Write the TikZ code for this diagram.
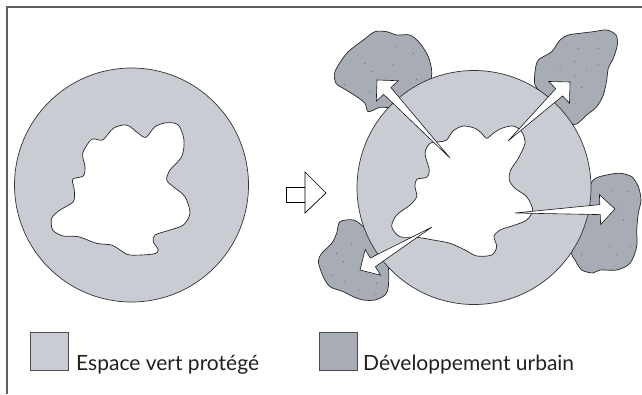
\documentclass[tikz,border=0pt]{standalone}
\usepackage{fontspec}
\setmainfont{Lato}
\usepackage{xcolor}
\usepackage{tikz}
\usetikzlibrary{calc}

\definecolor{vert}{RGB}{201,204,211}
\definecolor{urbain}{RGB}{168,172,180}
\definecolor{cadre}{RGB}{95,95,95}
\definecolor{texte}{RGB}{35,31,32}

\newcommand{\flecheurb}[2]{%
  \coordinate (b#2) at ($(#2)!15pt!(#1)$);
  \filldraw[fleche] (#1) -- ($(b#2)!5pt!90:(#2)$) -- ($(b#2)!15pt!90:(#2)$) -- (#2)
    -- ($(b#2)!15pt!-90:(#2)$) -- ($(b#2)!5pt!-90:(#2)$) -- cycle;
}

\begin{document}
\begin{tikzpicture}[x=1pt,y=-1pt]
  \tikzstyle{ceinture}=[circle,draw=black!80,fill=vert,line width=0.7pt,minimum size=234pt,inner sep=0pt]
  \tikzstyle{zone}=[draw=black!85,fill=urbain,line width=0.7pt]
  \tikzstyle{noyau}=[draw=black!85,fill=white,line width=0.7pt]
  \tikzstyle{fleche}=[draw=black!90,fill=white,line width=0.6pt,line join=miter]
  \tikzstyle{point}=[fill=black!55]
  \tikzstyle{cle}=[draw=black!70,line width=0.7pt,minimum size=38pt,inner sep=0pt]
  \tikzstyle{legende}=[anchor=base west,inner sep=0pt,font=\fontsize{21}{24}\selectfont,text=texte]
  \useasboundingbox (0,0) rectangle (642,394);
  \draw[cadre,line width=1.4pt] (7,394) -- (7,7) -- (642,7);

  % avant
  \node[ceinture] (c1) at (131.5,185) {};
  \draw[noyau] plot[smooth cycle] coordinates {(82.7,153.3) (91.7,139.3) (102.7,140) (113.3,128.3) (126.7,125) (138.3,133.3) (146,137.3) (155,126.7) (166.7,122.7) (178.3,125) (184,140) (181.7,156.7) (170,170) (166.7,180) (173.3,186.7) (185,196.7) (190,213.3) (183.3,225) (170,230) (155,235) (153.3,241.7) (158.3,250) (153.3,254) (130,255) (120,250) (111.7,245) (96.7,243.3) (78.3,236.7) (63.3,236) (52.7,230) (51.7,218.3) (60,210) (73.3,201.7) (74.3,190) (72.7,179.3) (83.3,176) (85,166.7)};

  \draw[line width=0.7pt] (286,187) rectangle (305,202);
  \filldraw[fill=white,line width=0.7pt,line join=miter] (305,172) -- (326,193) -- (305,213) -- cycle;

  % apres
  \draw[zone] plot[smooth cycle] coordinates {(335,71.7) (346.7,53.3) (363.3,40) (375,31.7) (386.7,31.7) (396.7,35) (410,35) (420,43.3) (428.3,56.7) (431.7,71.7) (428.3,83.3) (406.7,100) (391.7,107.3) (380,107.3) (368.3,111.7) (365,103.3) (356.7,96.7) (345,89.3) (336,83.3)};
  \draw[zone] plot[smooth cycle] coordinates {(535,71.7) (538.3,60) (551.7,51.7) (560,40) (568.3,35) (580,33.3) (593.3,31.7) (606.7,30) (616,35) (617.3,45) (613.3,58.3) (608.3,68.3) (606.7,80) (603.3,95) (596.7,106.7) (586.7,115) (576.7,124) (570,122.7) (556.7,110) (541.7,93.3) (535,85)};
  \draw[zone] plot[smooth cycle] coordinates {(593.3,180) (606.7,175) (620,173.3) (631.7,176.7) (638.3,186.7) (641,200) (638.3,213.3) (636.7,230) (636.7,246.7) (630,263.3) (616.7,270) (600,270) (593,273) (581.7,270) (575,260) (571.7,251.7) (580,230) (584,200)};
  \draw[zone] plot[smooth cycle] coordinates {(318.3,261.7) (321.7,253.3) (331.7,243.3) (336.7,233) (340,221.7) (353.3,220) (363.3,226.7) (380,245) (388,265) (388.3,286.7) (385,295) (375,300) (363.3,300) (353.3,296.7) (343.3,291.7) (330,286.7) (323.3,276.7)};
  \foreach \p in {(396.7,46.7),(413.3,53.3),(365,63.3),(371.7,71.7),(393.3,65),(416.7,79.3),(344.3,85),(370,92.7),
                  (578.3,48.3),(598.3,48.3),(560,66.7),(575,61.7),(586.7,70),(598.3,65),(575,76),(581.7,87.3),(575,104),
                  (611.7,190),(628,191.7),(621.7,208),(623.3,220),(610,246.7),(630,246.7),(616.7,255),(581.7,255),
                  (351.7,244),(336.7,253.3),(343.3,261.7),(331.7,275),(345,281.7),(358.3,290),(375,294),(376.7,283.3)}
    \fill[point] \p circle (0.7);

  \node[ceinture] (c2) at (474,187.5) {};
  \draw[noyau] plot[smooth cycle] coordinates {(425,153.3) (430,143.3) (440,141.7) (446.7,140) (453.3,130.7) (463.3,126) (475,128.3) (481.7,133.3) (486.7,138.3) (493.3,133.3) (501.7,128.3) (513.3,126) (521.7,131.7) (525,143.3) (518.3,158.3) (510.7,170) (509.3,180) (515,188.3) (526.7,196.7) (532.7,210) (526.7,220) (515,225) (500,230) (494,236.7) (496.7,246.7) (491.7,255) (476.7,256) (465,250) (450,243.3) (433.3,240) (416.7,237.3) (400,236.7) (391.7,226.7) (396.7,215) (410,205) (416.7,196.7) (415,186.7) (416.7,179.3) (426.7,177.3) (429.3,170)};

  \coordinate (q1) at (450,158);  \coordinate (p1) at (377,80);
  \coordinate (q2) at (508,141);  \coordinate (p2) at (570,82);
  \coordinate (q3) at (515,213);  \coordinate (p3) at (615,209);
  \coordinate (q4) at (432,227);  \coordinate (p4) at (360,270);
  \foreach \i in {1,...,4} {\flecheurb{q\i}{p\i}}

  % legende
  \node[cle,fill=vert] (k1) at (49,351) {};
  \node[legende] (t1) at (76,370) {Espace vert protégé};
  \node[cle,fill=urbain] (k2) at (338,351) {};
  \node[legende] (t2) at (363,370) {Développement urbain};
\end{tikzpicture}
\end{document}
